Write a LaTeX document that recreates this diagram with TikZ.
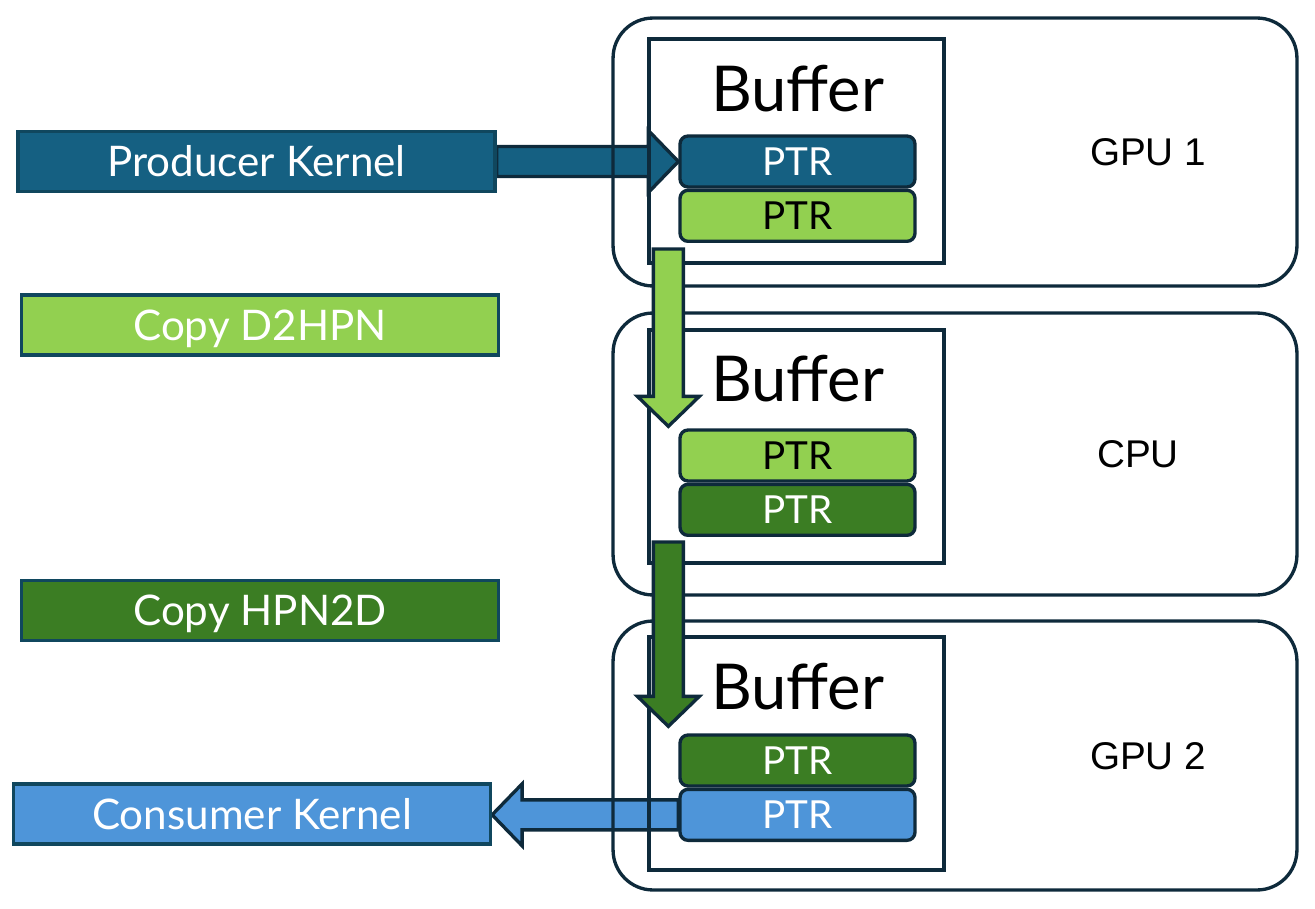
\documentclass[tikz,border=0pt]{standalone}
\usepackage{fontspec}
\setmainfont{Lato}
\newfontfamily\gpufont{Liberation Sans}
\usetikzlibrary{positioning,calc,backgrounds}

\definecolor{navy}{HTML}{0E2A3B}
\definecolor{kernelline}{HTML}{10475E}
\definecolor{prodblue}{HTML}{156082}
\definecolor{lightgreen}{HTML}{92D050}
\definecolor{darkgreen}{HTML}{3B7D23}
\definecolor{consblue}{HTML}{4E95D9}

% block arrow from #2 to #3, style #1
\newcommand{\blockarrow}[3]{%
  \coordinate (hb) at ($(#3)!0.6cm!(#2)$);
  \draw[#1] ($(#2)!0.3cm!90:(#3)$) -- ($(hb)!0.3cm!90:(#3)$) -- ($(hb)!0.62cm!90:(#3)$)
    -- (#3) -- ($(hb)!0.62cm!-90:(#3)$) -- ($(hb)!0.3cm!-90:(#3)$) -- ($(#2)!0.3cm!-90:(#3)$) -- cycle;}

\begin{document}
\begin{tikzpicture}[x=0.02cm,y=-0.02cm,
gpubox/.style={draw=navy, line width=1.9pt, rounded corners=0.8cm, minimum width=13.68cm},
bufbox/.style={draw=navy, line width=1.9pt, minimum width=5.9cm},
buftext/.style={inner sep=0pt, font=\fontsize{36}{40}\selectfont},
gpulabel/.style={inner sep=0pt, font=\gpufont\fontsize{22}{26}\selectfont},
ptr/.style={draw=navy, line width=1.9pt, rounded corners=0.16cm, minimum width=4.7cm, minimum height=1.02cm, inner sep=0pt, text height=15.8pt, text depth=0pt, font=\fontsize{22}{26}\selectfont},
kernel/.style={draw=kernelline, line width=1.9pt, minimum width=9.54cm, minimum height=1.2cm, inner sep=0pt, text=white, text height=17.3pt, text depth=0pt, font=\fontsize{24}{28}\selectfont},
flow/.style={draw=navy, line width=1.9pt, miter limit=10},
]
\useasboundingbox (0,0) rectangle (1315,909);

% devices
\node[gpubox, minimum height=5.36cm] (gpu1) at (955,152) {};
\node[gpubox, minimum height=5.64cm] (cpu) at (955,454) {};
\node[gpubox, minimum height=5.38cm] (gpu2) at (955,755.5) {};
\node[gpulabel] (gpu1_label) at (1148,152) {GPU 1};
\node[gpulabel] (cpu_label) at (1138,454) {CPU};
\node[gpulabel] (gpu2_label) at (1148,756) {GPU 2};

% buffers
\node[bufbox, minimum height=4.48cm] (buf1) at (796.5,151) {};
\node[bufbox, minimum height=4.66cm] (buf2) at (796.5,446.5) {};
\node[bufbox, minimum height=4.66cm] (buf3) at (796.5,753.5) {};
\node[buftext, anchor=base] (buf1_text) at ($(buf1.north)+(1,74)$) {Buffer};
\node[buftext, anchor=base] (buf2_text) at ($(buf2.north)+(1,73)$) {Buffer};
\node[buftext, anchor=base] (buf3_text) at ($(buf3.north)+(1,74)$) {Buffer};

% pointers
\node[ptr, fill=prodblue, text=white] (ptrA) at (797.5,161.5) {PTR};
\node[ptr, fill=lightgreen, below=0pt of ptrA] (ptrB) {PTR};
\node[ptr, fill=lightgreen] (ptrC) at (797.5,455.5) {PTR};
\node[ptr, fill=darkgreen, text=white, below=0pt of ptrC] (ptrD) {PTR};
\node[ptr, fill=darkgreen, text=white] (ptrE) at (797.5,760.5) {PTR};
\node[ptr, fill=consblue, text=white, below=0pt of ptrE] (ptrF) {PTR};

% kernels
\node[kernel, fill=prodblue] (producer) at (256.5,161.5) {Producer Kernel};
\node[kernel, fill=lightgreen] (d2hpn) at (260,325) {Copy D2HPN};
\node[kernel, fill=darkgreen] (hpn2d) at (260,610.5) {Copy HPN2D};
\node[kernel, fill=consblue] (consumer) at (252,814) {Consumer Kernel};

% transfers
\begin{pgfonlayer}{background}
\blockarrow{flow, fill=prodblue}{producer.east}{ptrA.west}
\blockarrow{flow, fill=consblue}{ptrF.west}{consumer.east |- ptrF.west}
\end{pgfonlayer}
\coordinate (d2hpn_from) at ($(ptrB.south west)+(-10,6)$);
\coordinate (d2hpn_to) at ($(ptrC.north west)+(-10,-2)$);
\blockarrow{flow, fill=lightgreen}{d2hpn_from}{d2hpn_to}
\coordinate (hpn2d_from) at ($(ptrD.south west)+(-10,5)$);
\coordinate (hpn2d_to) at ($(ptrE.north west)+(-10,-7)$);
\blockarrow{flow, fill=darkgreen}{hpn2d_from}{hpn2d_to}

\end{tikzpicture}
\end{document}
